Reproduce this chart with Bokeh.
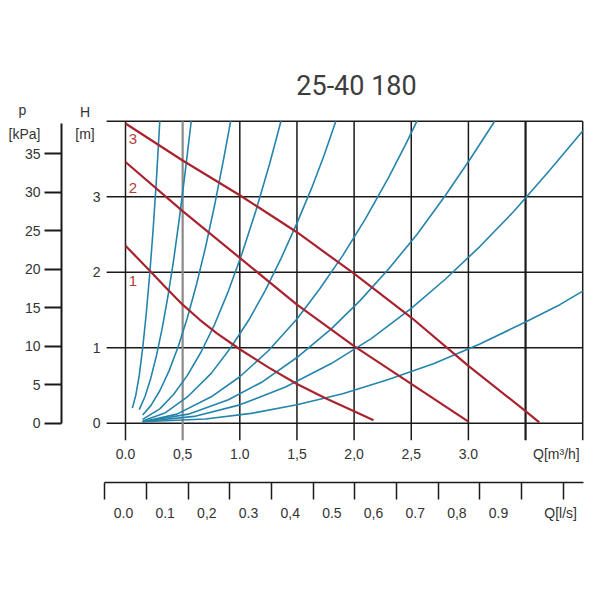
from bokeh.plotting import figure
from bokeh.models import Range1d, LinearAxis, FixedTicker, Label
from bokeh.embed import file_html
from bokeh.resources import INLINE

TITLE = "25-40 180"

# ---- pump curves (speed 1, 2, 3): flow Q [m3/h] -> head H [m]
speed1_q = [0.0, 0.2, 0.35, 0.5, 0.65, 0.8, 1.0, 1.25, 1.5, 1.75, 2.0, 2.17]
speed1_h = [2.35, 2.04, 1.80, 1.57, 1.37, 1.19, 0.98, 0.74, 0.52, 0.33, 0.16, 0.04]
speed2_q = [0.0, 0.5, 1.0, 1.5, 2.0, 2.5, 3.0]
speed2_h = [3.46, 2.81, 2.19, 1.57, 1.02, 0.52, 0.02]
speed3_q = [0.0, 0.5, 1.0, 1.5, 2.0, 2.5, 3.0, 3.5, 3.62]
speed3_h = [3.97, 3.48, 3.02, 2.53, 1.98, 1.40, 0.76, 0.16, 0.01]
speed_names = ["1", "2", "3"]

# ---- system curves: flow Q [m3/h] -> head H [m]
sys1_q = [0.06, 0.09, 0.12, 0.15, 0.18, 0.21, 0.24, 0.27, 0.30]
sys1_h = [0.20, 0.37, 0.63, 0.99, 1.43, 1.94, 2.53, 3.21, 4.00]
sys2_q = [0.12, 0.17, 0.22, 0.27, 0.32, 0.37, 0.42, 0.47, 0.52, 0.575]
sys2_h = [0.18, 0.35, 0.59, 0.89, 1.25, 1.67, 2.15, 2.70, 3.30, 4.00]
sys3_q = [0.15, 0.22, 0.30, 0.38, 0.46, 0.54, 0.62, 0.70, 0.78, 0.86, 0.92]
sys3_h = [0.11, 0.23, 0.43, 0.69, 1.01, 1.39, 1.83, 2.33, 2.89, 3.51, 4.00]
sys4_q = [0.15, 0.30, 0.42, 0.54, 0.66, 0.78, 0.90, 1.02, 1.14, 1.26, 1.36]
sys4_h = [0.05, 0.19, 0.38, 0.63, 0.94, 1.31, 1.75, 2.25, 2.81, 3.43, 4.00]
sys5_q = [0.15, 0.35, 0.55, 0.75, 0.92, 1.08, 1.22, 1.36, 1.50, 1.63, 1.74, 1.84]
sys5_h = [0.03, 0.14, 0.36, 0.66, 1.00, 1.37, 1.75, 2.18, 2.65, 3.12, 3.56, 4.00]
sys6_q = [0.15, 0.45, 0.75, 1.00, 1.25, 1.50, 1.70, 1.90, 2.10, 2.30, 2.45, 2.55]
sys6_h = [0.02, 0.12, 0.35, 0.615, 0.96, 1.38, 1.78, 2.22, 2.71, 3.25, 3.69, 4.00]
sys7_q = [0.15, 0.55, 0.90, 1.20, 1.50, 1.80, 2.05, 2.30, 2.55, 2.80, 3.02, 3.23]
sys7_h = [0.02, 0.12, 0.31, 0.55, 0.87, 1.25, 1.62, 2.04, 2.50, 3.02, 3.51, 4.00]
sys8_q = [0.15, 0.60, 1.00, 1.40, 1.80, 2.15, 2.50, 2.80, 3.10, 3.40, 3.70, 4.00]
sys8_h = [0.02, 0.09, 0.243, 0.48, 0.79, 1.12, 1.52, 1.91, 2.34, 2.81, 3.33, 3.87]
sys9_q = [0.15, 0.70, 1.10, 1.50, 1.90, 2.30, 2.70, 3.10, 3.50, 3.80, 4.00]
sys9_h = [0.02, 0.055, 0.13, 0.245, 0.39, 0.58, 0.79, 1.05, 1.34, 1.57, 1.75]

# ---- axes
Q_MAX = 4.0
H_MAX = 4.0
q_grid = [0.0, 1.0, 1.5, 2.0, 2.5, 3.0, 4.0]
q_grid_grey = [0.5]
q_grid_heavy = [3.5]
q_ticks = [0.0, 0.5, 1.0, 1.5, 2.0, 2.5, 3.0]
q_labels = ["0.0", "0,5", "1.0", "1,5", "2,0", "2,5", "3.0"]
q_unit = "Q[m³/h]"
h_grid = [0, 1, 2, 3, 4]
h_ticks = [0, 1, 2, 3]
kpa_ticks = [0, 5, 10, 15, 20, 25, 30, 35]
KPA_PER_M = 9.81
ls_values = [0.0, 0.1, 0.2, 0.3, 0.4, 0.5, 0.6, 0.7, 0.8, 0.9]
ls_labels = ["0.0", "0.1", "0,2", "0.3", "0,4", "0.5", "0,6", "0.7", "0,8", "0.9"]
ls_bounds = [-0.045, 0.055, 0.155, 0.255, 0.355, 0.455, 0.555, 0.655, 0.755, 0.855, 0.955, 1.055]
ls_unit = "Q[l/s]"

RED = "#a8232e"
RED_TXT = "#b53a3a"
BLUE = "#2584ab"
INK = "#1a1a1a"
TXT = "#333333"
FONT = "Liberation Sans"

X0, X1 = -1.0936, 4.0157
Y0, Y1 = -0.229, 5.599

p = figure(width=584, height=560, x_range=Range1d(X0, X1), y_range=Range1d(Y0, Y1),
           output_backend="svg", toolbar_location=None,
           min_border_left=0, min_border_right=0, min_border_top=0, min_border_bottom=120)
p.outline_line_color = None
p.background_fill_color = "white"
p.border_fill_color = "white"
p.xgrid.grid_line_color = None
p.ygrid.grid_line_color = None
p.extra_y_ranges = {"kpa": Range1d(Y0 * KPA_PER_M, Y1 * KPA_PER_M)}
p.extra_x_ranges = {"ls": Range1d(-0.2952, 1.1063)}

# title
p.add_layout(Label(x=2.021, y=4.473, text=TITLE, text_align="center", text_baseline="middle",
                   text_font="Roboto", text_font_size="27px", text_color="#3d3d3d"))

# grid lines (vertical ones run on below the grid as the Q-axis ticks)
p.segment(x0=[-0.165] * len(h_grid), y0=h_grid, x1=[Q_MAX] * len(h_grid), y1=h_grid,
          line_color=INK, line_width=1.5)
for ticks, color, width in [(q_grid, INK, 1.5), (q_grid_grey, "#8a8a8a", 2.2), (q_grid_heavy, INK, 2.2)]:
    p.segment(x0=ticks, y0=[Y0] * len(ticks), x1=ticks, y1=[H_MAX] * len(ticks),
              line_color=color, line_width=width)

# system curves
for qs, hs in [(sys1_q, sys1_h), (sys2_q, sys2_h), (sys3_q, sys3_h), (sys4_q, sys4_h),
               (sys5_q, sys5_h), (sys6_q, sys6_h), (sys7_q, sys7_h), (sys8_q, sys8_h),
               (sys9_q, sys9_h)]:
    p.line(qs, hs, line_color=BLUE, line_width=1.6, line_join="round")

# pump curves
for qs, hs in [(speed1_q, speed1_h), (speed2_q, speed2_h), (speed3_q, speed3_h)]:
    p.line(qs, hs, line_color=RED, line_width=2.2, line_join="round")

for name, yy in zip(speed_names, [1.89, 3.115, 3.764]):
    p.add_layout(Label(x=0.066, y=yy, text=name, text_align="center", text_baseline="middle",
                       text_font=FONT, text_font_size="15px", text_color=RED_TXT))

# bottom axis: m3/h (labels only; the tick marks are the grid lines running on)
ax = p.xaxis[0]
ax.ticker = FixedTicker(ticks=q_ticks + [3.77])
ov = {t: s for t, s in zip(q_ticks, q_labels)}
ov[3.77] = q_unit
ax.major_label_overrides = ov
ax.axis_line_color = None
ax.major_tick_out = 0
ax.major_tick_in = 0
ax.major_tick_line_color = None
ax.minor_tick_line_color = None
ax.major_label_standoff = 5
ax.major_label_text_font = FONT
ax.major_label_text_font_size = "14px"
ax.major_label_text_color = TXT
ax.axis_label = " "
ax.axis_label_standoff = 4
ax.axis_label_text_font_size = "10px"

# second bottom axis: l/s
ls_ax = LinearAxis(x_range_name="ls", bounds=(-0.046, 1.104),
                   ticker=FixedTicker(ticks=ls_values + [1.049], minor_ticks=ls_bounds))
ov2 = {t: s for t, s in zip(ls_values, ls_labels)}
ov2[1.049] = ls_unit
ls_ax.major_label_overrides = ov2
ls_ax.axis_line_color = INK
ls_ax.axis_line_width = 1.6
ls_ax.major_tick_out = 17
ls_ax.major_tick_in = 0
ls_ax.major_tick_line_color = None
ls_ax.minor_tick_out = 17
ls_ax.minor_tick_in = 0
ls_ax.minor_tick_line_color = INK
ls_ax.minor_tick_line_width = 1.5
ls_ax.major_label_standoff = 5
ls_ax.major_label_text_font = FONT
ls_ax.major_label_text_font_size = "14px"
ls_ax.major_label_text_color = TXT
p.add_layout(ls_ax, "below")

# left axis: H [m], fixed just left of the grid
hy = p.yaxis[0]
hy.fixed_location = -0.192
hy.ticker = FixedTicker(ticks=h_ticks)
hy.axis_line_color = None
hy.major_tick_out = 0
hy.major_tick_in = 0
hy.major_tick_line_color = None
hy.minor_tick_line_color = None
hy.major_label_standoff = 3
hy.major_label_text_font = FONT
hy.major_label_text_font_size = "14px"
hy.major_label_text_color = TXT

# outer left axis: p [kPa]
ky = LinearAxis(y_range_name="kpa", ticker=FixedTicker(ticks=kpa_ticks),
                fixed_location=-0.560, bounds=(0, 38.9))
ky.axis_line_color = INK
ky.axis_line_width = 2
ky.major_tick_out = 17
ky.major_tick_in = 0
ky.major_tick_line_color = INK
ky.major_tick_line_width = 2
ky.major_label_standoff = 4
ky.major_label_text_font = FONT
ky.major_label_text_font_size = "14px"
ky.major_label_text_color = TXT
p.add_layout(ky, "left")

# axis headers
for txt, xx, yy in [("p", -0.901, 4.155), ("[kPa]", -0.884, 3.83),
                    ("H", -0.353, 4.128), ("[m]", -0.354, 3.83)]:
    p.add_layout(Label(x=xx, y=yy, text=txt, text_align="center", text_baseline="alphabetic",
                       text_font=FONT, text_font_size="14px", text_color=TXT))

open("out.html", "w").write(file_html(p, INLINE))
